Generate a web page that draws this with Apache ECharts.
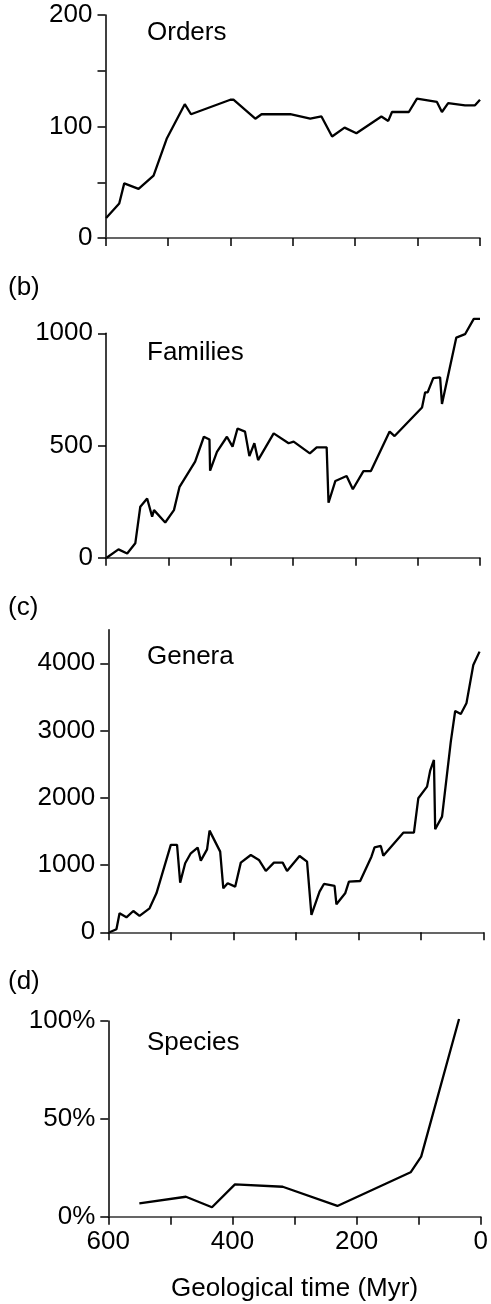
<!DOCTYPE html>
<html>
<head>
<meta charset="utf-8">
<script src="https://cdn.jsdelivr.net/npm/echarts@6/dist/echarts.min.js"></script>
<style>
  html, body { margin: 0; padding: 0; background: #fff; }
  #chart { width: 491px; height: 1304px; }
</style>
</head>
<body>
<div id="chart"></div>
<script>
// time (Myr ago) / value pairs
const ordersTime = [599, 578, 570, 547, 523, 502, 473, 463, 400, 395, 360, 350, 304, 272, 254, 237, 217, 198, 158, 147, 141, 114, 101, 69, 61, 51, 24, 8, 0];
const ordersVals = [18, 31, 49, 44, 56, 89, 120, 111, 124, 124, 107, 111, 111, 107, 109, 91, 99, 94, 109, 105, 113, 113, 125, 122, 113, 121, 119, 119, 124];

const familiesTime = [599, 580, 566, 553, 545, 534, 526, 523, 505, 491, 482, 457, 443, 434, 433, 422, 406, 397, 389, 377, 370, 362, 356, 331, 307, 299, 273, 262, 246, 243, 232, 214, 204, 187, 175, 145, 137, 93, 88, 84, 75, 64, 61, 38, 24, 10, 0];
const familiesVals = [0, 37, 19, 64, 227, 264, 183, 212, 157, 212, 316, 428, 539, 527, 388, 472, 539, 495, 576, 562, 453, 510, 435, 554, 510, 517, 465, 492, 492, 245, 342, 364, 305, 386, 386, 562, 542, 669, 737, 737, 800, 804, 685, 981, 996, 1064, 1064];

const generaTime = [598, 587, 582, 571, 560, 550, 534, 523, 500, 490, 485, 477, 468, 457, 452, 442, 438, 421, 416, 409, 397, 388, 372, 359, 348, 335, 321, 314, 294, 282, 275, 262, 255, 238, 235, 221, 215, 197, 179, 174, 164, 160, 128, 111, 104, 90, 85, 79, 77, 66, 52, 45, 36, 27, 16, 6];
const generaVals = [0, 45, 283, 223, 317, 243, 357, 580, 1299, 1299, 739, 1026, 1175, 1259, 1066, 1234, 1512, 1200, 654, 729, 679, 1036, 1150, 1076, 912, 1036, 1036, 912, 1135, 1051, 258, 605, 719, 689, 416, 580, 753, 763, 1125, 1264, 1284, 1140, 1482, 1482, 1993, 2166, 2404, 2563, 1532, 1720, 2835, 3291, 3247, 3405, 3975, 4174];

const speciesTime = [550, 475, 433, 396, 319, 231, 113, 96, 35];
const speciesVals = [6.8, 10.2, 4.8, 16.5, 15.3, 5.5, 22.7, 30.7, 101];

const xLabelValues = [600, 400, 200, 0];
const panelLetters = ["(b)", "(c)", "(d)"];
const panelNames = ["Orders", "Families", "Genera", "Species"];

const FONT = "Liberation Sans, Arial, sans-serif";
const FS = 26;
const pair = (ts, vs) => ts.map((t, i) => [t, vs[i]]);

const myChart = echarts.init(document.getElementById("chart"));

const grids = [
    { left: 105.5, right: 11, top: 15, height: 223 },
    { left: 106, right: 11, top: 333.3, height: 224.4 },
    { left: 108.3, right: 7.7, top: 629.7, height: 302.6 },
    { left: 108.3, right: 8, top: 1021, height: 195.7 },
];

const xAxis = grids.map((g, i) => ({
    type: "value",
    gridIndex: i,
    min: 0,
    max: 600,
    interval: 100,
    inverse: true,
    splitLine: { show: false },
    axisLine: { onZero: false, lineStyle: { color: "#333", width: 1.5 } },
    axisTick: { length: 8, lineStyle: { color: "#000", width: 1.5 } },
    axisLabel: {
        show: i === 3,
        color: "#000",
        fontFamily: FONT,
        fontSize: FS,
        margin: 12,
        formatter: (v) => (xLabelValues.indexOf(v) >= 0 ? String(v) : ""),
    },
    name: i === 3 ? "Geological time (Myr)" : "",
    nameLocation: "middle",
    nameGap: 59,
    nameTextStyle: { color: "#000", fontFamily: FONT, fontSize: FS },
}));

const yBase = {
    type: "value",
    min: 0,
    position: "left",
    splitLine: { show: false },
    axisLine: { show: true, onZero: false, lineStyle: { color: "#000", width: 1.5 } },
    axisTick: { show: true, length: 8, lineStyle: { color: "#000", width: 1.5 } },
};
const yLabel = { color: "#000", fontFamily: FONT, fontSize: FS, margin: 13, formatter: (v) => String(v) };

const yAxis = [
    Object.assign({}, yBase, {
        gridIndex: 0, max: 200, interval: 50,
        axisLabel: Object.assign({}, yLabel, { formatter: (v) => (v % 100 === 0 ? String(v) : "") }),
    }),
    Object.assign({}, yBase, {
        gridIndex: 1, max: 1000, interval: 500,
        axisLabel: yLabel,
    }),
    Object.assign({}, yBase, {
        gridIndex: 2, max: 4500, interval: 1000,
        axisTick: Object.assign({}, yBase.axisTick, { customValues: [0, 1000, 2000, 3000, 4000] }),
        axisLabel: Object.assign({}, yLabel, { customValues: [0, 1000, 2000, 3000, 4000] }),
    }),
    Object.assign({}, yBase, {
        gridIndex: 3, max: 100, interval: 50,
        axisLabel: Object.assign({}, yLabel, { formatter: (v) => v + "%" }),
    }),
];

const seriesData = [
    pair(ordersTime, ordersVals),
    pair(familiesTime, familiesVals),
    pair(generaTime, generaVals),
    pair(speciesTime, speciesVals),
];

const series = seriesData.map((d, i) => ({
    type: "line",
    xAxisIndex: i,
    yAxisIndex: i,
    data: d,
    showSymbol: false,
    clip: false,
    lineStyle: { color: "#000", width: 2.3 },
}));

// panel names and letters
const nameTops = [20, 340, 644, 1030];
const letterTops = [275, 595, 969];
const titles = panelNames.map((n, i) => ({
    text: n, left: 147, top: nameTops[i], padding: 0,
    textStyle: { color: "#000", fontFamily: FONT, fontSize: FS, fontWeight: "normal" },
})).concat(panelLetters.map((l, i) => ({
    text: l, left: 8, top: letterTops[i], padding: 0,
    textStyle: { color: "#000", fontFamily: FONT, fontSize: FS, fontWeight: "normal" },
})));

const option = {
    animation: false,
    backgroundColor: "#fff",
    title: titles,
    grid: grids,
    xAxis: xAxis,
    yAxis: yAxis,
    series: series,
};

myChart.setOption(option);
</script>
</body>
</html>
